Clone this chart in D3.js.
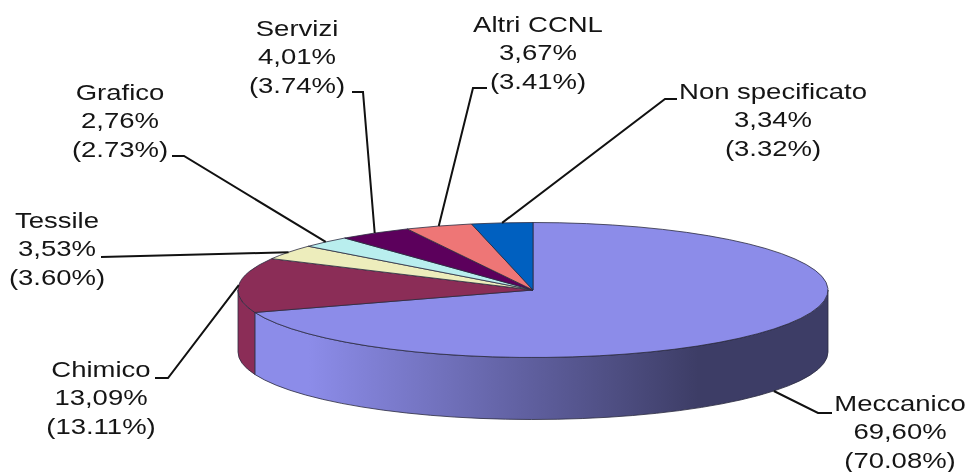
<!DOCTYPE html>
<html>
<head>
<meta charset="utf-8">
<script src="https://cdn.jsdelivr.net/npm/d3@7"></script>
<style>
    html, body { margin: 0; padding: 0; background: #fff; }
    svg { display: block; filter: blur(0.4px); }
    .fetta { stroke: #2a2a40; stroke-width: 1; stroke-opacity: .8; vector-effect: non-scaling-stroke; stroke-linejoin: round; }
    .leader { fill: none; stroke: #111; stroke-width: 2; }
    .etichetta { font-family: "Liberation Sans", Arial, sans-serif; font-size: 22px; fill: #151515; text-anchor: middle; }
</style>
</head>
<body>
<div id="grafico"></div>
<script>
    // -------------------------------------
    // Data
    // -------------------------------------
    var categorie = ["Meccanico", "Chimico", "Tessile", "Grafico", "Servizi", "Altri CCNL", "Non specificato"]
    var quote = [69.60, 13.09, 3.53, 2.76, 4.01, 3.67, 3.34]
    var quotePrecedenti = [70.08, 13.11, 3.60, 2.73, 3.74, 3.41, 3.32]
    var colori = ["#8c8ce9", "#8b2d57", "#ededbc", "#b9eeee", "#5c005c", "#ee7676", "#0060c0"]

    // label placement: centre x, first baseline, leader bend points
    var posizioni = [
        { x: 900, y: 411, piega: [[818, 413], [832, 413]], lato: true },
        { x: 101, y: 377, piega: [[168, 378], [155, 378]] },
        { x: 57, y: 228, piega: [[101, 257]] },
        { x: 120, y: 100, piega: [[184, 156], [172, 156]] },
        { x: 297, y: 36, piega: [[363, 92], [352, 92]] },
        { x: 538, y: 32, piega: [[473, 88], [487, 88]] },
        { x: 773, y: 99, piega: [[665, 99], [677, 99]] }
    ]

    var width = 968, height = 472
    var cx = 533, cy = 290, rx = 295, ry = 67.5, spessore = 62
    var allargamento = 1.25 // the source picture is stretched sideways
    var interlinea = 28.5

    var svg = d3.select("#grafico").append("svg")
        .attr("width", width)
        .attr("height", height)

    // unit circle -> flattened ellipse on the page
    var x = d3.scaleLinear().domain([-1, 1]).range([cx - rx, cx + rx])
    var y = d3.scaleLinear().domain([-1, 1]).range([cy - ry, cy + ry])

    var torta = d3.pie().sort(null).value(d => d)
    var fette = torta(quote)

    var puntoX = a => x(Math.sin(a))
    var puntoY = a => y(-Math.cos(a))

    // -------------------------------------
    // Side wall
    // -------------------------------------
    var grad = svg.append("defs").append("linearGradient")
        .attr("id", "fianco")
        .attr("gradientUnits", "userSpaceOnUse")
        .attr("x1", cx - rx).attr("x2", cx + rx)
        .attr("y1", 0).attr("y2", 0)
    grad.append("stop").attr("offset", "0.12").attr("stop-color", colori[0])
    grad.append("stop").attr("offset", "0.78").attr("stop-color", "#3d3d66")

    function fianco(d) {
        var a0 = Math.max(d.startAngle, Math.PI / 2)
        var a1 = Math.min(d.endAngle, Math.PI * 3 / 2)
        if (a1 <= a0) return null
        var x0 = puntoX(a0), y0 = puntoY(a0), x1 = puntoX(a1), y1 = puntoY(a1)
        return `M${x0},${y0}A${rx},${ry} 0 0 1 ${x1},${y1}L${x1},${y1 + spessore}` +
            `A${rx},${ry} 0 0 0 ${x0},${y0 + spessore}Z`
    }

    svg.append("g").selectAll("path")
        .data(fette)
        .enter()
        .append("path")
        .attr("class", "fetta")
        .attr("d", fianco)
        .attr("fill", (d, i) => i == 0 ? "url(#fianco)" : colori[i])

    // -------------------------------------
    // Top face
    // -------------------------------------
    var arco = d3.arc().innerRadius(0).outerRadius(rx)

    svg.append("g")
        .attr("transform", `translate(${cx},${cy}) scale(1,${ry / rx})`)
        .selectAll("path")
        .data(fette)
        .enter()
        .append("path")
        .attr("class", "fetta")
        .attr("d", arco)
        .attr("fill", (d, i) => colori[i])

    // -------------------------------------
    // Leader lines and labels
    // -------------------------------------
    var linea = d3.line()

    svg.append("g").selectAll("path")
        .data(fette)
        .enter()
        .append("path")
        .attr("class", "leader")
        .attr("d", (d, i) => {
            var medio = (d.startAngle + d.endAngle) / 2
            var attacco = [puntoX(medio), puntoY(medio) + (posizioni[i].lato ? spessore : 0)]
            return linea([attacco].concat(posizioni[i].piega))
        })

    var formatta = d3.format(".2f")

    var etichette = svg.append("g").selectAll("text")
        .data(categorie)
        .enter()
        .append("text")
        .attr("class", "etichetta")
        .attr("transform", (d, i) => `translate(${posizioni[i].x},${posizioni[i].y}) scale(${allargamento},1)`)

    etichette.each(function (d, i) {
        var righe = [d, formatta(quote[i]).replace(".", ",") + "%", "(" + formatta(quotePrecedenti[i]) + "%)"]
        d3.select(this).selectAll("tspan")
            .data(righe)
            .enter()
            .append("tspan")
            .attr("x", 0)
            .attr("y", (r, j) => j * interlinea)
            .text(r => r)
    })
</script>
</body>
</html>
